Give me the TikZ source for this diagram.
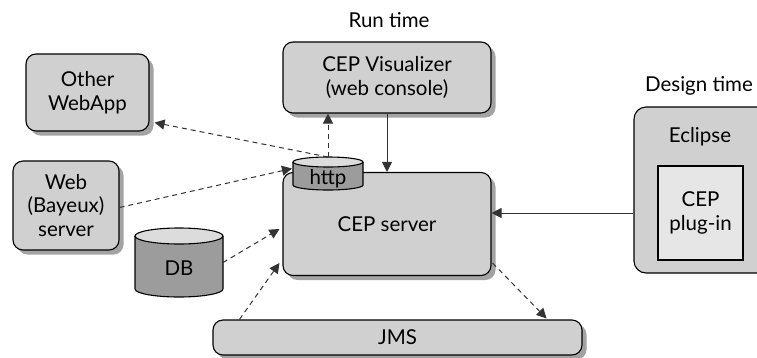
\documentclass[tikz,border=0pt]{standalone}
\usepackage{fontspec}
\setmainfont{Lato}
\usetikzlibrary{calc,shadows,arrows.meta}
\definecolor{boxgray}{HTML}{D0D0D0}
\definecolor{shgray}{HTML}{A3A3A3}
\definecolor{cylbody}{HTML}{9C9C9C}
\definecolor{cyltop}{HTML}{DCDCDC}
\definecolor{plugfill}{HTML}{E6E6E6}
\definecolor{linegray}{HTML}{333333}
\tikzset{
  lbl/.style={font=\fontsize{20.5}{23.5}\selectfont, align=center, inner sep=0pt},
  rbox/.style={draw=black, line width=1.1pt, fill=boxgray, rounded corners=10pt,
     general shadow={fill=shgray, shadow xshift=4.5pt, shadow yshift=-4.5pt},
     font=\fontsize{20.5}{23.5}\selectfont, align=center, inner sep=0pt},
  ghost/.style={inner sep=0pt, outer sep=0pt},
  conn/.style={line width=1pt, draw=linegray, -{Triangle[length=10pt,width=10pt]}},
  dconn/.style={conn, dash pattern=on 5pt off 4pt},
}
\begin{document}
\begin{tikzpicture}[x=1pt,y=-1pt]
\useasboundingbox (0,0) rectangle (757,357);
\clip (0,0) rectangle (757,357);

% texts
\node[lbl] (runtime) at (389,20) {Run time};
\node[lbl] (designtime) at (699,86) {Design time};

% boxes
\node[rbox, minimum width=123pt, minimum height=77pt] (other) at (87.5,92.5) {Other\\WebApp};
\node[rbox, minimum width=208pt, minimum height=71pt] (vis) at (387,77.5) {CEP Visualizer\\(web console)};
\node[rbox, minimum width=106pt, minimum height=89pt] (web) at (66,205.5) {Web\\(Bayeux)\\server};
\node[rbox, minimum width=208pt, minimum height=103pt] (server) at (387,224) {CEP server};
\node[rbox, minimum width=369pt, minimum height=35pt] (jms) at (397.5,337.5) {JMS};

% Eclipse
\node[draw=black, line width=1.1pt, fill=boxgray, rounded corners=12pt,
      minimum width=141pt, minimum height=166pt, inner sep=0pt] (eclipse) at (704.5,190) {};
\node[lbl] (eclipselbl) at (700,137) {Eclipse};
\node[draw=black, line width=1.1pt, fill=plugfill, minimum width=85pt, minimum height=94pt,
      lbl] (plugin) at (700.5,213) {CEP\\plug-in};

% http cylinder
\path[fill=cylbody, draw=black, line width=1.1pt] (293,162) -- (293,185)
   arc[start angle=180, end angle=0, x radius=35, y radius=5] -- (363,162);
\path[fill=cyltop, draw=black, line width=1.1pt] (328,162) ellipse[x radius=35, y radius=5];
\node[ghost, minimum width=70pt, minimum height=33pt] (http) at (328,173.5) {};
\node[lbl] (httplbl) at (328,179) {http};

% DB cylinder
\path[fill=cylbody, draw=black, line width=1.1pt] (135,236) -- (135,289)
   arc[start angle=180, end angle=0, x radius=44, y radius=8] -- (223,236);
\path[fill=cyltop, draw=black, line width=1.1pt] (179,236) ellipse[x radius=44, y radius=8];
\node[ghost, minimum width=88pt, minimum height=69pt] (db) at (179,262.5) {};
\node[lbl] (dblbl) at (179,268) {DB};

% connectors
\draw[dconn] (http.north) -- ($(other.south east)+(5,-9)$);
\draw[dconn] (http.north) -- (http.north |- vis.south);
\draw[dconn] ($(web.east)+(0,2)$) -- ($(http.west)+(-1,-5)$);
\draw[dconn] (db.east) -- ($(server.west)+(-3,5)$);
\draw[dconn] ($(jms.north west)+(27,0)$) -- ($(server.west)+(-3,39)$);
\draw[dconn] ($(server.south east)+(1,-13)$) -- ($(jms.north east)+(-36,-1)$);
\draw[conn] (vis.south) -- (server.north);
\draw[conn] (plugin.west -| eclipse.west) -- (plugin.west -| server.east);
\end{tikzpicture}
\end{document}
